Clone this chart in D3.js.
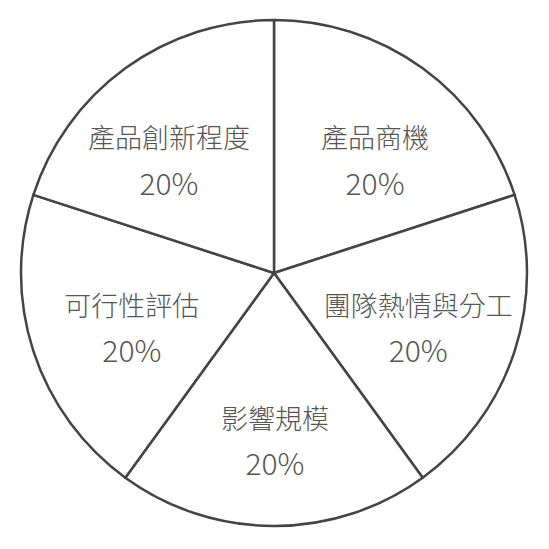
<!DOCTYPE html>
<html>
<head>
<meta charset="utf-8">
<script src="https://cdn.jsdelivr.net/npm/d3@7"></script>
<style>
  html, body { margin: 0; padding: 0; background: #fff; }
  svg { display: block; }
</style>
</head>
<body>
<svg id="chart" width="549" height="549"></svg>
<script>
// ---- data ----
const categories = ["產品商機", "團隊熱情與分工", "影響規模", "可行性評估", "產品創新程度"];
const values = [20, 20, 20, 20, 20];
const percentLabels = ["20%", "20%", "20%", "20%", "20%"];

// ---- layout ----
const W = 549, H = 549;
const cx = 274, cy = 273, radius = 253;
const labelRadius = 160;
const labelNudge = [[7, 16], [-8, 5], [1, 7], [10, 5], [-11, 16]];
const lineGap = 46;

const svg = d3.select("#chart");
const g = svg.append("g").attr("transform", `translate(${cx},${cy})`);

const pie = d3.pie().sort(null).value(d => d.value);
const data = categories.map((c, i) => ({ cat: c, value: values[i], pct: percentLabels[i] }));
const arcs = pie(data);

const arc = d3.arc().innerRadius(0).outerRadius(radius);
const labelArc = d3.arc().innerRadius(labelRadius).outerRadius(labelRadius);

g.selectAll("path.slice")
  .data(arcs)
  .enter().append("path")
  .attr("class", "slice")
  .attr("d", arc)
  .attr("fill", "#ffffff")
  .attr("stroke", "#444444")
  .attr("stroke-width", 2.5)
  .attr("stroke-linejoin", "round");

const labels = g.selectAll("g.label")
  .data(arcs)
  .enter().append("g")
  .attr("class", "label")
  .attr("transform", (d, i) => {
    const c = labelArc.centroid(d);
    return `translate(${c[0] + labelNudge[i][0]},${c[1] + labelNudge[i][1]})`;
  });

labels.append("text")
  .attr("y", -lineGap / 2)
  .attr("text-anchor", "middle")
  .attr("dominant-baseline", "central")
  .attr("font-family", "'Noto Sans CJK TC', 'Noto Sans', sans-serif")
  .attr("font-weight", 300)
  .attr("font-size", 27)
  .attr("fill", "#555555")
  .text(d => d.data.cat);

labels.append("text")
  .attr("y", lineGap / 2 - 1)
  .attr("text-anchor", "middle")
  .attr("dominant-baseline", "central")
  .attr("font-family", "'Noto Sans CJK TC', 'Noto Sans', sans-serif")
  .attr("font-weight", 300)
  .attr("font-size", 30)
  .attr("fill", "#555555")
  .text(d => d.data.pct);
</script>
</body>
</html>
